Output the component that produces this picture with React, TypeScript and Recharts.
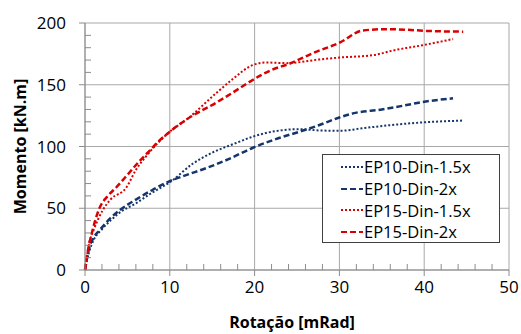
import { LineChart, Line, XAxis, YAxis, CartesianGrid, Legend } from "recharts";

// rotation [mRad] / moment [kN.m]
const ep10d15Rot = [0, 0.5, 1, 2, 3, 4, 6, 8, 10, 12.7, 15, 17.5, 19.8, 23, 25.3, 27.7, 30, 33, 35.6, 39.8, 44.6];
const ep10d15Mom = [0, 15, 24, 33, 40, 46, 54, 63, 71, 86, 95, 102, 108, 113, 114, 113, 112.7, 115, 117, 119.5, 121];

const ep10d2Rot = [0, 0.5, 1, 1.7, 3, 4.1, 6, 8, 10, 12, 14.3, 17, 19.8, 22.5, 25.3, 27.5, 30, 31.6, 35, 37.5, 39.8, 43.4];
const ep10d2Mom = [0, 18, 26, 32, 42, 48.5, 57, 65, 72, 77, 82.5, 90, 99, 106, 112, 117, 123.5, 126.8, 130, 133, 136, 139];

const ep15d15Rot = [0, 0.5, 1, 2.1, 3, 4.9, 6, 7.2, 10, 12, 15.6, 17.5, 19.8, 21.4, 23.8, 27.7, 30, 34, 36.5, 39.8, 43.4];
const ep15d15Mom = [0, 22, 32, 48.5, 57, 67, 81, 92, 112, 122, 144, 155, 166, 168, 167.5, 170.5, 172, 174, 178, 182, 187];

const ep15d2Rot = [0, 0.4, 0.7, 1.7, 2.7, 3.7, 5, 6.4, 7.4, 8.5, 10, 12, 15.6, 17.5, 19.8, 22, 24.1, 27, 30, 32.8, 35.6, 38, 40.3, 44.6];
const ep15d2Mom = [0, 18, 27, 50, 60, 67, 77, 88, 95, 103, 112, 122, 136, 144, 154, 162, 167, 176, 184, 194, 195, 194.5, 193.6, 193];

const xDomain = [0, 50];
const yDomain = [0, 200];
const xTicks = [0, 10, 20, 30, 40, 50];
const yTicks = [0, 50, 100, 150, 200];
const xMinor = [0, 2, 4, 6, 8, 10, 12, 14, 16, 18, 20, 22, 24, 26, 28, 30, 32, 34, 36, 38, 40, 42, 44, 46, 48, 50];
const yMinor = [0, 10, 20, 30, 40, 50, 60, 70, 80, 90, 100, 110, 120, 130, 140, 150, 160, 170, 180, 190, 200];

const BLUE = "#15356d";
const RED = "#d80000";
const FONT = "'Open Sans', sans-serif";
const TICK = "#8c8c8c";

const toPoints = (rot: number[], mom: number[]) => rot.map((r, i) => ({ r, m: mom[i] }));

// first series sits on the (hidden) grid axes, which share the same domains
const series = [
  { name: "EP10-Din-1.5x", data: toPoints(ep10d15Rot, ep10d15Mom), color: BLUE, dash: "2 2", w: 2, axis: "grid" },
  { name: "EP10-Din-2x", data: toPoints(ep10d2Rot, ep10d2Mom), color: BLUE, dash: "6 3", w: 2.5, axis: "main" },
  { name: "EP15-Din-1.5x", data: toPoints(ep15d15Rot, ep15d15Mom), color: RED, dash: "2 2", w: 2, axis: "main" },
  { name: "EP15-Din-2x", data: toPoints(ep15d2Rot, ep15d2Mom), color: RED, dash: "6 3", w: 2.5, axis: "main" },
];

// x tick: text pos is 6 (tickSize) + 5 (margin) below the axis
const XTick = (props: any) => {
  const { x, y, payload } = props;
  const axisY = y - 11;
  if (xTicks.includes(payload.value)) {
    return (
      <g>
        <line x1={x} x2={x} y1={axisY} y2={axisY + 6} stroke={TICK} />
        <text x={x} y={y} dy="0.71em" textAnchor="middle" fill="#000" fontSize={17} fontFamily={FONT}>
          {payload.value}
        </text>
      </g>
    );
  }
  return (
    <g>
      <line x1={x} x2={x} y1={axisY} y2={axisY - 6} stroke={TICK} />
    </g>
  );
};

// y tick: text pos is 6 (tickSize) + 13 (margin) left of the axis
const YTick = (props: any) => {
  const { x, y, payload } = props;
  const axisX = x + 19;
  if (yTicks.includes(payload.value)) {
    return (
      <g>
        <line x1={axisX - 6} x2={axisX} y1={y} y2={y} stroke={TICK} />
        <text x={x} y={y} dy="0.355em" textAnchor="end" fill="#000" fontSize={17} fontFamily={FONT}>
          {payload.value}
        </text>
      </g>
    );
  }
  return (
    <g>
      <line x1={axisX} x2={axisX + 6} y1={y} y2={y} stroke={TICK} />
    </g>
  );
};

const LegendBox = () => (
  <div
    style={{
      width: 178,
      height: 89,
      border: "1px solid #404040",
      background: "#fff",
      fontFamily: FONT,
      fontSize: 16.5,
      color: "#000",
      boxSizing: "border-box",
      paddingTop: 1,
    }}
  >
    {series.map((s) => (
      <div key={s.name} style={{ display: "flex", alignItems: "center", height: 21.7 }}>
        <svg width={40} height={10}>
          <line x1={18} y1={5} x2={40} y2={5} stroke={s.color} strokeWidth={2} strokeDasharray={s.dash} />
        </svg>
        <span style={{ marginLeft: 1 }}>{s.name}</span>
      </div>
    ))}
  </div>
);

export default function App() {
  return (
    <div style={{ position: "absolute", left: 0, top: 0 }}>
      <LineChart width={521} height={334} margin={{ top: 23, right: 12, bottom: 0, left: 0 }}>
        <CartesianGrid stroke="#a8a8a8" xAxisId="grid" yAxisId="grid" />
        <XAxis
          xAxisId="main"
          type="number"
          dataKey="r"
          domain={xDomain}
          ticks={xMinor}
          interval={0}
          height={64}
          axisLine={{ stroke: TICK }}
          tickLine={false}
          tickSize={6}
          tickMargin={5}
          tick={XTick}
          label={{
            value: "Rotação [mRad]",
            position: "center",
            dx: -5,
            dy: 20,
            style: { fontWeight: 700, fontSize: 16, fontFamily: FONT, fill: "#000" },
          }}
        />
        <YAxis
          yAxisId="main"
          type="number"
          domain={yDomain}
          ticks={yMinor}
          interval={0}
          width={85}
          axisLine={{ stroke: TICK }}
          tickLine={false}
          tickSize={6}
          tickMargin={13}
          tick={YTick}
          label={{
            value: "Momento [kN.m]",
            angle: -90,
            position: "center",
            dx: -22,
            style: { fontWeight: 700, fontSize: 16, fontFamily: FONT, fill: "#000" },
          }}
        />
        <XAxis xAxisId="grid" hide height={0} type="number" dataKey="r" domain={xDomain} ticks={xTicks} />
        <YAxis yAxisId="grid" hide width={0} type="number" domain={yDomain} ticks={yTicks} />
        <Legend
          layout="vertical"
          verticalAlign="middle"
          align="center"
          content={() => <LegendBox />}
          wrapperStyle={{ position: "absolute", left: 322, top: 154, width: 178 }}
        />
        {series.map((s) => (
          <Line
            key={s.name}
            name={s.name}
            data={s.data}
            dataKey="m"
            xAxisId={s.axis}
            yAxisId={s.axis}
            type="monotone"
            stroke={s.color}
            strokeWidth={s.w}
            strokeDasharray={s.dash}
            dot={false}
            isAnimationActive={false}
          />
        ))}
      </LineChart>
    </div>
  );
}
